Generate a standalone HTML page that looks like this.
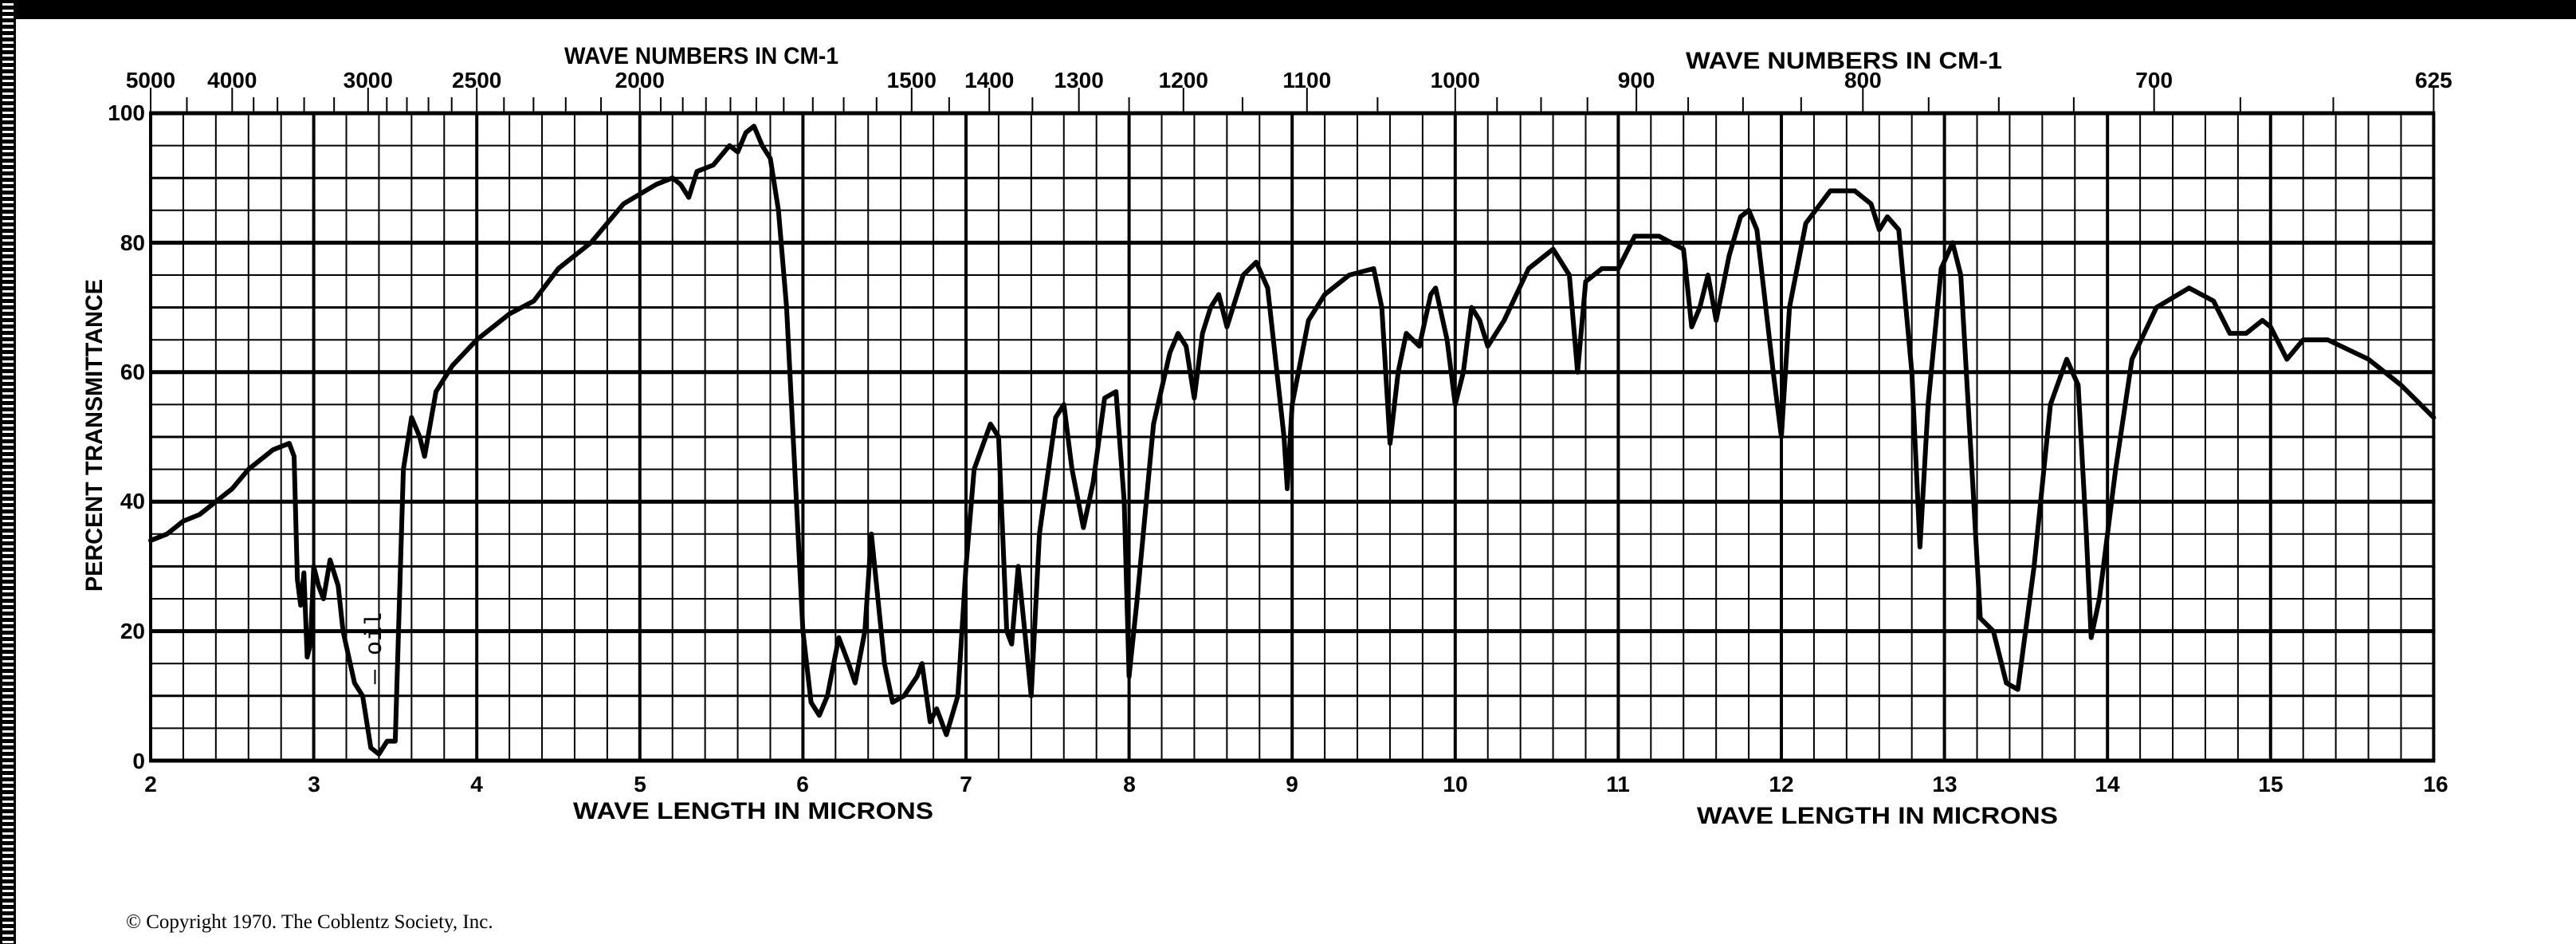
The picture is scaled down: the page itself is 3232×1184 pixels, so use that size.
<!DOCTYPE html>
<html><head><meta charset="utf-8"><style>
html,body{margin:0;padding:0;background:#fff;width:3232px;height:1184px;overflow:hidden}
svg{display:block}
.lb{font-family:"Liberation Sans",sans-serif;font-weight:bold;fill:#000}
</style></head><body>
<svg id="s" width="3232" height="1184" viewBox="0 0 3232 1184" xmlns="http://www.w3.org/2000/svg">
<rect x="0" y="0" width="3232" height="1184" fill="#fff"/>
<rect x="0" y="0" width="3232" height="24" fill="#000"/>
<rect x="0" y="0" width="20" height="1184" fill="#000"/>
<g id="stripes"></g>
<g id="grid"></g>
<g id="ticks"></g>
<path id="spec" fill="none" stroke="#000" stroke-width="6" stroke-linejoin="round" stroke-linecap="round"/>
<g class="lb" font-size="30">
<text x="708" y="80" textLength="344" lengthAdjust="spacingAndGlyphs">WAVE NUMBERS IN CM-1</text>
<text x="2115" y="86" textLength="397" lengthAdjust="spacingAndGlyphs">WAVE NUMBERS IN CM-1</text>
<text x="719" y="1027" textLength="452" lengthAdjust="spacingAndGlyphs">WAVE LENGTH IN MICRONS</text>
<text x="2129" y="1033" textLength="453" lengthAdjust="spacingAndGlyphs">WAVE LENGTH IN MICRONS</text>
<text transform="translate(128,546) rotate(-90)" text-anchor="middle" textLength="392" lengthAdjust="spacingAndGlyphs">PERCENT TRANSMITTANCE</text>
</g>
<g class="lb" font-size="28" text-anchor="end">
<text x="182" y="151">100</text><text x="182" y="314">80</text><text x="182" y="476">60</text>
<text x="182" y="638">40</text><text x="182" y="801">20</text><text x="182" y="964">0</text>
</g>
<g class="lb" font-size="28" text-anchor="middle" id="mlab">
<text x="189" y="993">2</text><text x="394" y="993">3</text><text x="598" y="993">4</text>
<text x="803" y="993">5</text><text x="1007" y="993">6</text><text x="1212" y="993">7</text>
<text x="1417" y="993">8</text><text x="1621" y="993">9</text><text x="1826" y="993">10</text>
<text x="2030" y="993">11</text><text x="2235" y="993">12</text><text x="2440" y="993">13</text>
<text x="2644" y="993">14</text><text x="2849" y="993">15</text><text x="3056" y="993">16</text>
</g>
<g class="lb" font-size="28" text-anchor="middle" id="wlab"></g>
<text x="478" y="858" transform="rotate(-90 478 858)" font-family="Liberation Mono,monospace" font-size="30" fill="#000">— oil</text>
<text x="158" y="1164" font-family="Liberation Serif,serif" font-size="25" fill="#000">© Copyright 1970.  The Coblentz Society, Inc.</text>
</svg>
<script>
var NS="http://www.w3.org/2000/svg";
function X(u){return 189+(u-2)*204.6}
function Y(p){return 954-p*8.12}
function el(g,t,a){var e=document.createElementNS(NS,t);for(var k in a)e.setAttribute(k,a[k]);g.appendChild(e);return e}
var st=document.getElementById('stripes');
for(var y=4;y<1184;y+=8) el(st,'rect',{x:3,y:y,width:14,height:3,fill:'#fff'});
var g=document.getElementById('grid');
for(var i=0;i<=70;i++){var u=2+i*0.2,x=X(u);var w=(i%5==0)?4:2;
 el(g,'line',{x1:x,y1:Y(100),x2:x,y2:Y(0),stroke:'#000','stroke-width':w});}
for(var p=0;p<=100;p+=5){var w=(p%20==0)?5:(p%10==0?3:2);
 el(g,'line',{x1:X(2)-2,y1:Y(p),x2:X(16)+2,y2:Y(p),stroke:'#000','stroke-width':w});}
var tk=document.getElementById('ticks');
var labs=[5000,4000,3000,2500,2000,1500,1400,1300,1200,1100,1000,900,800,700,625];
var ws=[5000,4500,4000,3800,3600,3400,3200,3000,2900,2800,2700,2600,2500,2400,2300,2200,2100];
for(var v=2000;v>1000;v-=50)ws.push(v);
for(var v=1000;v>=625;v-=25)ws.push(v);
ws.forEach(function(v){var x=X(10000/v);var L=labs.indexOf(v)>=0;
 el(tk,'line',{x1:x,y1:Y(100),x2:x,y2:Y(100)-(L?32:20),stroke:'#000','stroke-width':2});});
var wl=document.getElementById('wlab');
labs.forEach(function(v){var t=el(wl,'text',{x:X(10000/v),y:110});t.textContent=v;});
var d=[[2,34],[2.1,35],[2.2,37],[2.3,38],[2.4,40],[2.5,42],[2.6,45],[2.7,47],[2.75,48],[2.85,49],[2.88,47],[2.9,28],[2.92,24],[2.94,29],[2.96,16],[2.98,18],[3.0,30],[3.03,27],[3.06,25],[3.1,31],[3.15,27],[3.18,20],[3.25,12],[3.3,10],[3.35,2],[3.4,1],[3.45,3],[3.5,3],[3.52,20],[3.55,45],[3.6,53],[3.65,50],[3.68,47],[3.75,57],[3.85,61],[4.0,65],[4.2,69],[4.35,71],[4.5,76],[4.7,80],[4.9,86],[5.1,89],[5.2,90],[5.25,89],[5.3,87],[5.35,91],[5.45,92],[5.55,95],[5.6,94],[5.65,97],[5.7,98],[5.75,95],[5.8,93],[5.85,85],[5.9,70],[5.95,45],[6.0,20],[6.05,9],[6.1,7],[6.15,10],[6.22,19],[6.28,15],[6.32,12],[6.38,20],[6.42,35],[6.46,25],[6.5,15],[6.55,9],[6.62,10],[6.7,13],[6.73,15],[6.78,6],[6.82,8],[6.88,4],[6.95,10],[7.0,30],[7.05,45],[7.15,52],[7.2,50],[7.25,20],[7.28,18],[7.32,30],[7.36,20],[7.4,10],[7.45,35],[7.55,53],[7.6,55],[7.65,45],[7.72,36],[7.78,43],[7.85,56],[7.92,57],[7.97,40],[8.0,13],[8.05,25],[8.15,52],[8.25,63],[8.3,66],[8.35,64],[8.4,56],[8.45,66],[8.5,70],[8.55,72],[8.6,67],[8.7,75],[8.78,77],[8.85,73],[8.95,50],[8.97,42],[9.0,55],[9.1,68],[9.2,72],[9.35,75],[9.5,76],[9.55,70],[9.6,49],[9.65,60],[9.7,66],[9.78,64],[9.85,72],[9.88,73],[9.95,65],[10.0,55],[10.05,60],[10.1,70],[10.15,68],[10.2,64],[10.3,68],[10.45,76],[10.6,79],[10.7,75],[10.75,60],[10.8,74],[10.9,76],[11.0,76],[11.1,81],[11.25,81],[11.4,79],[11.45,67],[11.5,70],[11.55,75],[11.6,68],[11.68,78],[11.75,84],[11.8,85],[11.85,82],[11.95,60],[12.0,50],[12.05,70],[12.15,83],[12.3,88],[12.45,88],[12.55,86],[12.6,82],[12.65,84],[12.72,82],[12.8,60],[12.85,33],[12.9,55],[12.98,76],[13.05,80],[13.1,75],[13.18,40],[13.22,22],[13.3,20],[13.38,12],[13.45,11],[13.55,30],[13.65,55],[13.75,62],[13.82,58],[13.87,35],[13.9,19],[13.95,25],[14.05,45],[14.15,62],[14.3,70],[14.5,73],[14.65,71],[14.75,66],[14.85,66],[14.95,68],[15.0,67],[15.1,62],[15.2,65],[15.35,65],[15.6,62],[15.8,58],[16.0,53]];
var s="";d.forEach(function(p,i){s+=(i?"L":"M")+X(p[0]).toFixed(1)+","+Y(p[1]).toFixed(1);});
document.getElementById('spec').setAttribute('d',s);
</script>
</body></html>
